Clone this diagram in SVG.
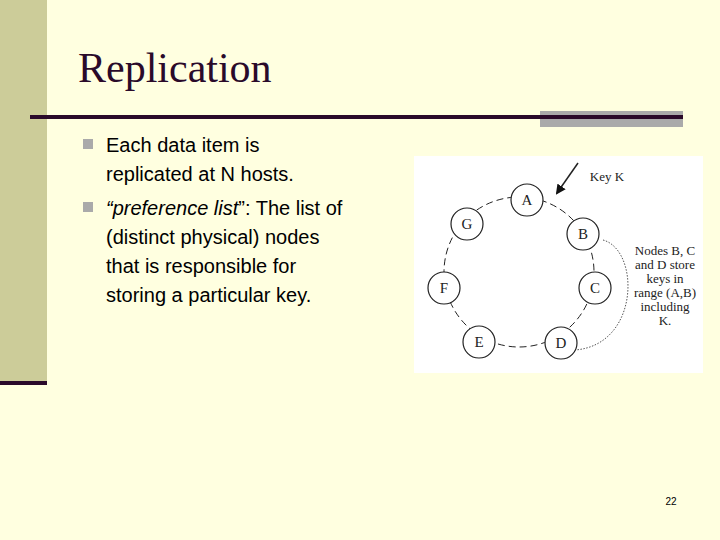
<svg xmlns="http://www.w3.org/2000/svg" width="720" height="540" viewBox="0 0 720 540">
<style>
.n circle{fill:#fff;stroke:#222;stroke-width:1.2}
.n text{font-family:"Liberation Serif",serif;font-size:15px;fill:#222;text-anchor:middle}
.lab{font-family:"Liberation Serif",serif;font-size:13px;fill:#222;text-anchor:middle}
.b{font-family:"Liberation Sans",sans-serif;font-size:20px;fill:#000}
</style>
<defs><marker id="ah" markerWidth="10" markerHeight="10" refX="8" refY="5" orient="auto" markerUnits="userSpaceOnUse"><path d="M0,0L10,5L0,10z" fill="#111"/></marker></defs>
<rect width="720" height="540" fill="#ffffe0"/>
<rect x="0" y="0" width="47" height="385" fill="#cccc99"/>
<rect x="0" y="381" width="47" height="4" fill="#2a0a2a"/>
<rect x="540" y="111" width="143" height="16" fill="#aaaaaa"/>
<rect x="30" y="115" width="653" height="4" fill="#2a0a2a"/>
<text x="78" y="82" font-family="Liberation Serif,serif" font-size="42" fill="#2a0a2a">Replication</text>
<rect x="83" y="139" width="10" height="10" fill="#aaaaaa"/>
<rect x="83" y="202" width="10" height="10" fill="#aaaaaa"/>
<text class="b" x="106" y="152">Each data item is</text>
<text class="b" x="106" y="181">replicated at N hosts.</text>
<text class="b" x="106" y="215"><tspan font-style="italic">“preference list</tspan>”: The list of</text>
<text class="b" x="106" y="244">(distinct physical) nodes</text>
<text class="b" x="106" y="273">that is responsible for</text>
<text class="b" x="106" y="302">storing a particular key.</text>
<rect x="414" y="156" width="289" height="217" fill="#fff"/>
<g id="connectors" fill="none" stroke="#222">
<circle cx="519" cy="272" r="75" stroke-dasharray="7,4"/>
<path d="M603,240 C640,250 640,345 575,350" stroke-dasharray="1.5,1.5" stroke="#555"/>
<line x1="578" y1="163" x2="557" y2="193" stroke-width="1.5" marker-end="url(#ah)"/>
</g>
<text class="lab" x="607" y="181">Key K</text>
<g><text class="lab" x="665" y="255">Nodes B, C</text><text class="lab" x="665" y="269">and D store</text><text class="lab" x="665" y="283">keys in</text><text class="lab" x="665" y="297">range (A,B)</text><text class="lab" x="665" y="311">including</text><text class="lab" x="665" y="325">K.</text></g>
<g id="A" class="n"><circle cx="527" cy="200" r="16"/><text x="527" y="205">A</text></g>
<g id="G" class="n"><circle cx="467" cy="224" r="16"/><text x="467" y="229">G</text></g>
<g id="B" class="n"><circle cx="583" cy="234" r="16"/><text x="583" y="239">B</text></g>
<g id="F" class="n"><circle cx="444" cy="288" r="16"/><text x="444" y="293">F</text></g>
<g id="C" class="n"><circle cx="595" cy="288" r="16"/><text x="595" y="293">C</text></g>
<g id="E" class="n"><circle cx="479" cy="342" r="16"/><text x="479" y="347">E</text></g>
<g id="D" class="n"><circle cx="561" cy="343" r="16"/><text x="561" y="348">D</text></g>
<text x="671" y="505" font-family="Liberation Sans,sans-serif" font-size="10" fill="#000" text-anchor="middle">22</text>
</svg>
